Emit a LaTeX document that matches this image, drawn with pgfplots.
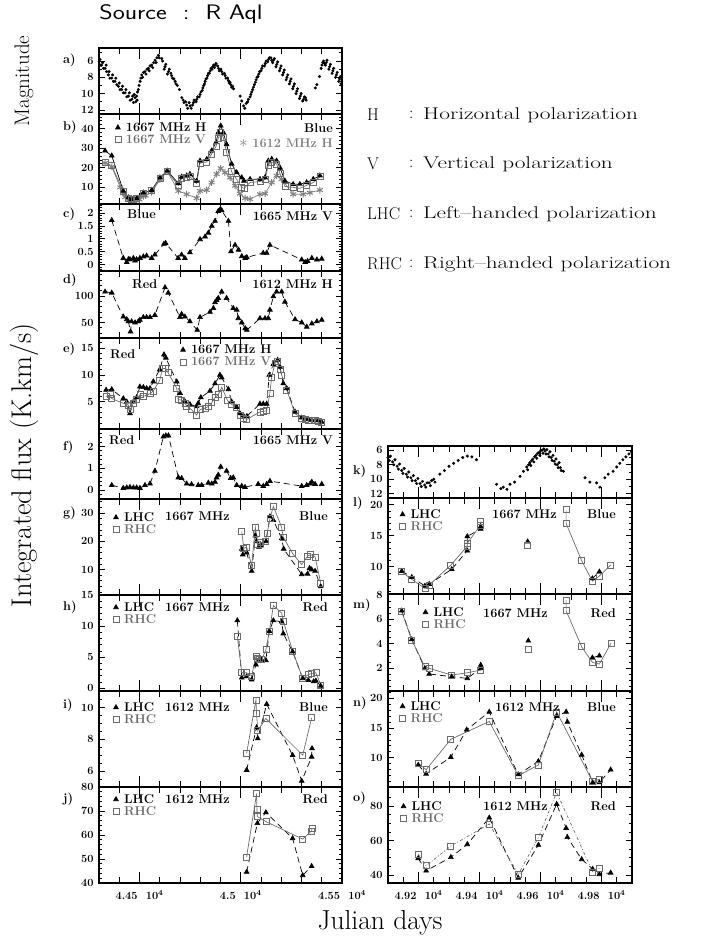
\documentclass[border=0pt]{standalone}
\usepackage{fontspec}
\usepackage{graphicx}
\usepackage{pgfplots}
\pgfplotsset{compat=1.18}
\newcommand\tlf{\bfseries\fontsize{11}{12}\selectfont}
\newcommand\anf{\bfseries\fontsize{12.7}{13}\selectfont}
\newcommand\rtf{\fontsize{17}{20}\selectfont}
\newcommand\rt[1]{\scalebox{1.37}[1]{#1}}
\definecolor{sqgray}{gray}{0.42}
\definecolor{stgray}{gray}{0.5}
\pgfplotsset{
 panel/.style={scale only axis, anchor=north west, axis line style={line width=1.1pt},
   tick style={line width=0.8pt,black}, major tick length=6pt, minor tick length=3pt,
   tick align=inside, xticklabels={}, tick label style={font=\tlf},
   scaled x ticks=false, scaled y ticks=false,
   /pgf/number format/assume math mode=true, yticklabel style={xshift=-2pt},
   xticklabel style={yshift=-4pt}, extra x tick style={major tick length=11pt},
   unbounded coords=jump},
 L/.style={panel, width=243pt, xmin=44300, xmax=45500, xtick={44300,44400,...,45500},
   extra x ticks={44500,45000,45500}, extra x tick labels={}},
 R/.style={panel, width=244pt, xmin=49100, xmax=49900, xtick={49100,49150,...,49900},
   extra x ticks={49200,49400,49600,49800}, extra x tick labels={}},
 tri/.style={black, line width=0.7pt, mark=triangle*, mark size=2.7pt, mark options={solid, fill=black}},
 sq/.style={sqgray, line width=0.7pt, mark=square, mark size=3pt, mark options={solid}},
 dsh/.style={dash pattern=on 6pt off 4pt},
 leg/.style={legend style={at={(#1)}, anchor=north west, draw=none, fill=none, font=\anf,
   inner sep=0pt, row sep=-2pt, cells={anchor=west}},
   legend image code/.code={\path (0cm,0cm) (0.35cm,0cm); \draw[##1, only marks] plot coordinates {(0.15cm,0cm)};}},
 dots/.style={only marks, mark=*, mark size=1.3pt, black},
}
\begin{document}
\begin{tikzpicture}[x=1pt,y=1pt]
\useasboundingbox (0pt,0pt) rectangle (701pt,-942pt);
% ---------------- a
\begin{axis}[L, at={(99pt,-48pt)}, height=66pt, ymin=4.4, ymax=12.5, y dir=reverse,
  ytick={6,8,10,12}, minor ytick={5,7,9,11}]
\addplot[dots] coordinates {
(44300,6.1)(44305,5.8)(44308,6.5)(44313,6.5)(44318,6.2)(44322,6.9)(44330,6.9)(44335,6.5)(44338,7.3)
(44346,7.7)(44350,7.3)(44354,8.1)(44363,8.1)(44367,7.7)(44371,8.5)(44379,8.5)(44383,8.1)(44388,8.9)
(44396,9.1)(44400,8.7)(44404,9.5)(44412,9.5)(44416,9.1)(44420,9.9)(44429,9.9)(44433,9.5)(44437,10.4)
(44445,10.3)(44450,9.9)(44454,10.8)(44462,10.7)(44466,10.3)(44470,11.1)(44478,10.5)(44482,11.0)(44474,10.1)
(44486,10.3)(44490,9.8)(44488,10.8)(44494,9.5)(44498,9.0)(44503,8.5)(44507,8.1)
(44511,7.7)(44515,8.0)(44520,7.4)(44527,7.3)(44532,7.6)(44537,7.0)(44544,6.9)(44548,7.2)(44552,6.6)
(44560,6.5)(44565,6.8)(44570,6.2)(44577,5.9)(44582,6.2)(44586,5.6)(44593,5.3)(44597,5.6)
(44610,5.7)(44614,6.0)(44626,6.7)(44630,6.4)(44622,7.0)(44643,7.3)(44647,7.0)(44638,7.6)
(44659,7.8)(44663,8.1)(44655,7.5)(44676,8.5)(44680,8.8)(44670,8.2)(44687,9.0)(44697,9.5)(44709,10.5)
(44720,11.1)(44716,10.8)(44733,11.4)(44728,11.0)(44738,11.8)(44750,11.5)(44745,11.1)(44755,11.8)
(44766,11.1)(44762,11.4)(44770,10.8)(44783,10.7)(44779,11.0)(44787,10.4)(44799,10.1)(44795,10.4)(44803,9.8)
(44813,9.3)(44810,9.6)(44817,9.0)(44824,8.5)(44821,8.8)(44828,8.2)(44836,7.8)(44833,8.1)(44840,7.5)
(44849,7.2)(44845,7.5)(44853,6.9)(44862,6.7)(44858,7.0)(44866,6.5)(44874,6.5)(44870,6.8)(44878,6.3)
(44890,6.9)(44886,6.6)(44894,7.2)(44906,7.3)(44902,7.0)(44910,7.6)(44923,7.8)(44919,7.5)(44927,8.1)
(44939,8.4)(44935,8.1)(44943,8.7)(44951,8.9)(44947,8.6)(44955,9.2)(44964,9.4)(44960,9.1)
(44997,10.3)(45005,10.9)(45014,11.5)(45020,11.8)(45027,11.2)(45038,10.7)(45034,11.0)
(45050,10.1)(45046,10.4)(45054,9.8)(45063,9.2)(45059,9.5)(45067,8.9)(45076,8.3)(45072,8.6)(45080,8.0)
(45089,7.6)(45085,7.9)(45093,7.3)(45104,6.9)(45100,7.2)(45108,6.6)(45121,6.3)(45117,6.6)(45125,6.0)
(45137,5.8)(45133,6.1)(45141,5.6)(45149,5.6)(45153,5.9)(45162,5.9)(45158,6.2)(45166,5.7)
(45178,6.4)(45174,6.7)(45182,6.1)(45195,6.9)(45191,7.2)(45199,6.6)(45211,7.4)(45207,7.7)(45215,7.1)
(45228,8.0)(45224,8.3)(45232,7.7)(45244,8.5)(45240,8.8)(45248,8.2)(45261,9.1)(45257,9.4)(45265,8.8)
(45277,9.7)(45273,10.0)(45281,9.4)(45294,10.3)(45290,10.6)(45298,10.0)(45310,10.7)(45306,10.9)(45314,10.4)
(45323,10.8)(45320,10.5)
(45368,9.3)(45376,8.9)(45389,7.9)(45401,6.5)(45397,6.9)(45405,6.2)(45409,6.0)(45413,6.3)
(45422,6.2)(45418,6.5)(45426,5.9)(45439,6.7)(45435,7.0)(45443,6.4)(45455,7.2)(45451,7.5)(45459,6.9)
(45472,7.7)(45468,8.0)(45476,7.4)(45488,8.2)(45484,8.5)(45492,7.9)(45498,8.5)(45495,8.8)};
\end{axis}
% ---------------- b
\begin{axis}[L, at={(99pt,-114pt)}, height=90pt, ymin=1.5, ymax=47.5,
  ytick={10,20,30,40}, minor ytick={2,4,...,46}, leg={0.058,0.93}]
\addplot[forget plot, stgray, line width=0.7pt, mark=asterisk, mark size=3.4pt, mark options={line width=1pt}] coordinates {
(44330,22.5)(44363,20.5)(44405,10)(44420,7)(44430,5)(44445,3.5)(44461,2.8)(44470,3)(44486,3.2)(44500,3.8)
(44519,5.5)(44530,5.8)(44560,7.5)(44601,14)(44637,18)(44692,8.2)(44733,6.5)(44782,4.5)(44799,8.2)(44832,8.6)
(44856,12.5)(44881,16.8)(44901,19.8)(44922,17.6)(44947,15)(44972,10.8)(44996,6.8)(45021,4.5)(45046,4)
(45095,6.5)(45120,6.8)(45153,12.5)(45177,16)(45201,14.2)(45259,6.5)(45308,6.5)(45341,7.3)(45391,8.6)};
\addplot[tri] coordinates {
(44330,28.7)(44363,26.2)(44420,8.2)(44445,4.8)(44461,4.0)(44486,4.5)(44519,7.3)(44560,8.6)(44601,15)
(44637,18.5)(44692,12)(44708,15.4)(44733,16)(44749,16.8)(44782,13.3)(44799,23.6)(44832,24.4)(44856,28.7)
(44878,33)(44889,38)(44901,41.5)(44914,38)(44930,32)(44955,22)(44980,17.6)(45005,15)(45016,13.3)
(45046,14.2)(45095,14.2)(45120,15)(45136,23.6)(45153,24.5)(45177,23.6)(45194,20)(45218,13.3)
(45259,11.6)(45292,11.6)(45325,12.5)(45358,14.2)(45391,16)};
\addlegendentry{1667 MHz H}
\addplot[sq] coordinates {
(44330,22.7)(44363,21)(44420,8)(44445,4.5)(44461,3.8)(44486,4.3)(44519,7)(44560,8.3)(44601,14.5)
(44637,18)(44692,11)(44708,14.5)(44733,15)(44749,15.5)(44782,12)(44799,22.5)(44832,23)(44856,27)
(44878,31)(44889,35)(44901,38)(44914,35.5)(44930,28)(44955,18)(44980,14)(45005,10)(45016,9.5)
(45046,12.5)(45095,13)(45120,14)(45136,21.5)(45153,23)(45177,22)(45194,17)(45218,10.5)
(45259,10)(45292,9.5)(45325,11)(45358,12.5)(45391,15.5)};
\addlegendentry{\textcolor{sqgray}{1667 MHz V}}
\end{axis}
% ---------------- c
\begin{axis}[L, at={(99pt,-204pt)}, height=67pt, ymin=-0.25, ymax=2.35,
  ytick={0,0.5,1,1.5,2}, minor ytick={-0.2,-0.1,...,2.3}]
\addplot[tri, dsh] coordinates {
(44363,1.72)(44420,0.25)(44437,0.09)(44445,0.2)(44453,0.2)(44470,0.25)(44478,0.15)(44486,0.2)(44502,0.25)
(44519,0.31)(44535,0.34)(44560,0.25)(44576,0.38)(44621,0.8)(44629,0.83)(44691,0.25)(44708,0.38)(44724,0.25)
(44749,0.47)(44799,0.98)(44824,1.08)(44840,1.23)(44857,1.5)(44873,1.69)(44889,2.07)(44898,2.13)(44906,2.1)
(44939,1.69)(44952,0.51)(44972,0.76)(44989,0.57)(45005,0.32)(45022,0.25)(45030,0.28)(45111,0.45)(45128,0.45)
(45144,0.76)(45301,0.19)(45318,0.09)(45330,0.13)(45351,0.25)(45376,0.19)(45400,0.22)};
\end{axis}
% ---------------- d
\begin{axis}[L, at={(99pt,-271pt)}, height=67pt, ymin=21, ymax=147,
  ytick={50,100}, minor ytick={30,40,...,140}]
\addplot[tri, dsh] coordinates {
(44330,108)(44363,106)(44420,61)(44437,56)(44445,52)(44456,33)(44461,52)(44478,50)(44494,52)(44502,55)
(44519,60)(44535,60)(44552,60)(44576,64)(44626,116)(44642,106)(44700,60)(44708,66)(44724,61)(44749,52)
(44785,36)(44799,60)(44848,70)(44865,77)(44873,88)(44881,92)(44889,96)(44906,108)(44930,96)(44963,77)
(44980,74)(44988,58)(45005,50)(45022,39)(45030,36)(45095,58)(45120,58)(45136,58)(45144,74)(45161,99)
(45177,108)(45202,108)(45218,89)(45268,56)(45301,50)(45326,42)(45351,48)(45376,52)(45400,55)};
\end{axis}
% ---------------- e
\begin{axis}[L, at={(99pt,-338pt)}, height=91pt, ymin=-0.1, ymax=16.9,
  ytick={5,10,15}, minor ytick={1,2,...,16}, leg={0.326,0.95}]
\addplot[tri, dsh] coordinates {
(44335,7.2)(44363,7.3)(44420,5.6)(44437,5.0)(44453,2.8)(44470,5.0)(44486,5.8)(44502,7.8)(44519,7.7)
(44535,7.5)(44552,7.5)(44568,8.75)(44600,11)(44621,13.8)(44630,13.2)(44684,8.75)(44700,6.6)(44725,5.0)
(44749,4.5)(44782,4.1)(44790,4.7)(44803,5.8)(44848,7.0)(44873,8.4)(44897,10)(44906,9.5)(44939,7.3)
(44955,5)(44980,4)(44996,2.8)(45013,2.4)(45030,2.3)(45095,4.6)(45111,4.6)(45128,4.6)(45141,10)
(45161,12)(45182,12.8)(45194,11.5)(45210,8.4)(45227,7.5)(45268,3.1)(45301,2.0)(45318,1.8)(45334,1.7)
(45351,1.6)(45367,1.5)(45384,1.5)(45400,1.2)};
\addlegendentry{1667 MHz H}
\addplot[sq] coordinates {
(44335,6.0)(44354,6.3)(44363,5.6)(44420,4.7)(44445,4.4)(44453,3.5)(44470,4.7)(44486,5.5)(44502,6.3)
(44519,6.0)(44552,6.5)(44568,7.0)(44600,9)(44614,11.2)(44630,11.2)(44640,10.5)(44684,7.5)(44691,5.4)
(44708,5.3)(44725,4.7)(44733,4.2)(44757,3.5)(44782,2.5)(44799,3.5)(44824,3.8)(44840,4.1)(44857,4.8)
(44873,5.8)(44889,6.3)(44906,7.7)(44935,5.2)(44955,4.5)(44980,3.9)(44996,2.5)(45013,1.9)(45030,1.7)
(45095,3.1)(45111,3.2)(45128,3.3)(45144,6.6)(45152,9.5)(45169,12.2)(45180,12.5)(45194,11)(45202,10)
(45227,7.2)(45268,2.8)(45301,1.9)(45318,1.7)(45334,1.6)(45351,1.6)(45367,1.5)(45384,1.4)(45400,1.1)};
\addlegendentry{\textcolor{sqgray}{1667 MHz V}}
\end{axis}
% ---------------- f
\begin{axis}[L, at={(99pt,-429pt)}, height=70pt, ymin=-0.4, ymax=2.8,
  ytick={0,1,2}, minor ytick={-0.2,0,...,2.6}]
\addplot[tri, dsh] coordinates {
(44363,0.23)(44420,0.1)(44437,0.12)(44453,0.14)(44470,0.12)(44486,0.12)(44502,0.1)(44527,0.23)(44552,0.3)
(44576,0.88)(44618,2.45)(44630,2.5)(44643,2.5)(44692,0.58)(44708,0.55)(44733,0.3)(44757,0.27)(44790,0.23)
(44807,0.23)(44840,0.34)(44857,0.3)(44873,0.38)(44881,0.58)(44889,0.7)(44901,1.07)(44930,0.88)(44950,0.55)
(44963,0.58)(44980,0.23)(45005,0.19)(45021,0.14)(45086,0.28)(45111,0.19)(45128,0.28)(45144,0.42)
(45301,0.19)(45326,0.23)(45343,0.3)(45351,0.38)(45367,0.28)(45400,0.28)};
\end{axis}
% ---------------- g
\begin{axis}[L, at={(99pt,-499pt)}, height=96pt, ymin=1, ymax=35,
  ytick={10,20,30}, minor ytick={2,4,...,34}, leg={0.05,0.885}]
\addplot[tri, dsh] coordinates {
(45005,17.3)(45010,15.3)(45029,16)(45054,9.5)(45072,22)(45078,20)(45090,18)(45100,18.5)(45125,20)
(45144,28.8)(45161,27.5)(45202,21)(45212,17.3)(45301,8.3)(45330,8.5)(45340,10.5)(45350,10)(45367,9.5)(45395,4)};
\addlegendentry{LHC}
\addplot[sq] coordinates {
(45005,23.5)(45015,17.5)(45029,18)(45054,11.5)(45072,25)(45076,23)(45084,19)(45095,19.5)(45120,20)
(45130,22.7)(45144,28)(45161,32.4)(45202,25)(45210,21.5)(45256,15.7)(45301,11.8)(45330,14.8)(45345,15.3)
(45367,14.5)(45395,5.2)};
\addlegendentry{\textcolor{sqgray}{RHC}}
\end{axis}
% ---------------- h
\begin{axis}[L, at={(99pt,-595pt)}, height=96pt, ymin=-0.43, ymax=15,
  ytick={0,5,10,15}, minor ytick={1,2,...,14}, leg={0.05,0.948}]
\addplot[tri, dsh] coordinates {
(44983,10.9)(45005,1.7)(45029,1.9)(45054,1.4)(45075,3.8)(45090,4.6)(45103,4.6)(45124,4.5)(45141,9.2)
(45161,10.9)(45202,10.7)(45210,8.8)(45256,5.9)(45306,1.6)(45334,1.3)(45360,1.1)(45371,1.2)(45395,0.4)};
\addlegendentry{LHC}
\addplot[sq] coordinates {
(44983,8.4)(45005,2.5)(45029,2.5)(45054,2.0)(45075,5.2)(45080,4.8)(45090,4.6)(45103,4.6)(45124,6.2)
(45141,9.1)(45161,13.3)(45202,12.1)(45210,10.8)(45256,6.0)(45306,1.6)(45334,2.2)(45350,2.4)(45371,2.5)(45395,0.55)};
\addlegendentry{\textcolor{sqgray}{RHC}}
\end{axis}
% ---------------- i
\begin{axis}[L, at={(99pt,-691pt)}, height=96pt, ymin=4.99, ymax=11.06,
  ytick={6,8,10}, minor ytick={5.5,6,...,10.5}, leg={0.05,0.906}]
\addplot[tri, dsh] coordinates {
(45029,6.06)(45078,8.75)(45084,8.06)(45128,10.23)(45256,7.0)(45301,5.37)(45350,6.9)(45352,7.43)};
\addlegendentry{LHC}
\addplot[sq] coordinates {
(45029,7.12)(45075,10.5)(45078,9.65)(45084,8.55)(45124,9.33)(45306,7.0)(45350,9.37)};
\addlegendentry{\textcolor{sqgray}{RHC}}
\end{axis}
% ---------------- j
\begin{axis}[L, at={(99pt,-787pt)}, height=96pt, ymin=40, ymax=80,
  ytick={40,50,...,80}, minor ytick={42,44,...,78}, leg={0.05,0.948},
  extra x tick labels={4.45\ \ 10\textsuperscript{4},4.5\ \ 10\textsuperscript{4},4.55\ \ 10\textsuperscript{4}}]
\addplot[tri, dsh] coordinates {
(45029,44.6)(45082,64.9)(45124,69.4)(45256,58.6)(45306,43.2)(45350,47)};
\addlegendentry{LHC}
\addplot[sq] coordinates {
(45029,50.9)(45078,77.2)(45080,70.5)(45082,67.7)(45124,65.6)(45306,58.3)(45350,61.7)(45352,62.9)};
\addlegendentry{\textcolor{sqgray}{RHC}}
\end{axis}
% ---------------- k
\begin{axis}[R, at={(388pt,-446pt)}, height=52pt, ymin=5.4, ymax=12.6, y dir=reverse,
  ytick={6,8,10,12}, minor ytick={7,9,11}]
\addplot[dots] coordinates {
(49100,7.0)(49104,7.4)(49108,6.8)(49115,7.6)(49119,8.0)(49123,7.3)(49130,8.2)(49134,8.6)(49138,7.9)
(49145,8.8)(49149,9.2)(49153,8.5)(49160,9.3)(49164,9.7)(49168,9.0)(49175,9.8)(49179,10.2)(49183,9.5)
(49190,10.2)(49194,10.6)(49198,9.9)(49205,10.6)(49209,11.0)(49213,10.3)(49220,10.8)(49224,11.1)(49228,10.5)
(49235,10.5)(49239,10.9)(49243,10.2)(49250,10.0)(49254,10.4)
(49270,9.3)(49285,8.8)(49300,8.2)(49315,7.8)(49330,7.4)(49345,7.0)(49360,6.8)(49375,6.9)(49390,7.3)
(49456,10.7)(49470,11.3)(49478,11.1)(49490,11.4)(49500,10.7)(49515,10.4)(49533,9.6)(49544,8.9)
(49555,8.3)(49558,8.7)(49561,8.0)(49565,7.7)(49568,8.1)(49571,7.4)(49575,7.2)(49578,7.6)(49581,6.9)
(49585,6.7)(49588,7.1)(49591,6.4)(49595,6.3)(49598,6.7)(49601,6.0)(49605,6.0)(49608,6.4)(49611,5.8)
(49615,6.1)(49618,6.5)(49621,5.9)(49625,6.5)(49628,6.9)(49631,6.2)(49635,7.0)(49638,7.4)(49641,6.7)
(49645,7.5)(49648,7.9)(49651,7.2)(49655,8.0)(49658,8.4)(49661,7.7)(49665,8.4)(49668,8.8)(49675,8.9)
(49746,9.8)(49762,10.4)(49784,10.5)(49795,11.1)(49811,9.8)(49822,9.3)(49838,8.9)(49850,8.3)(49860,7.8)
(49870,7.3)(49880,6.9)(49890,6.5)(49898,6.2)};
\end{axis}
% ---------------- l
\begin{axis}[R, at={(388pt,-498pt)}, height=96pt, ymin=5.6, ymax=21.1,
  ytick={10,15,20}, minor ytick={6,7,...,21}, leg={0.04,0.906}]
\addplot[tri, dsh] coordinates {
(49145,9.3)(49178,8.3)(49221,6.9)(49235,7.2)(49309,9.6)(49360,12.6)(49360,14.9)(49404,16.1)(49404,16.5)
(49480,nan)(49558,14.05)(49620,nan)(49770,8.1)(49793,9.2)};
\addlegendentry{LHC}
\addplot[sq] coordinates {
(49145,9.19)(49178,7.96)(49221,6.5)(49235,7.03)(49306,10.28)(49360,13.3)(49360,13.8)(49404,16.75)(49404,17.3)
(49480,nan)(49558,13.5)(49620,nan)(49684,19.2)(49684,17.0)(49735,10.97)(49770,7.68)(49793,8.5)(49830,10.28)};
\addlegendentry{\textcolor{sqgray}{RHC}}
\end{axis}
% ---------------- m
\begin{axis}[R, at={(388pt,-594pt)}, height=97pt, ymin=0.15, ymax=8.07,
  ytick={2,4,6,8}, minor ytick={0.5,1,...,7.5}, leg={0.134,0.887}]
\addplot[tri, dsh] coordinates {
(49145,6.7)(49178,4.36)(49221,1.99)(49235,1.54)(49309,1.32)(49360,1.18)(49404,2.0)(49404,2.27)
(49480,nan)(49560,4.25)(49620,nan)(49770,2.87)(49793,3.03)};
\addlegendentry{LHC}
\addplot[sq] coordinates {
(49145,6.62)(49178,4.31)(49221,2.13)(49235,2.0)(49309,1.45)(49360,1.64)(49404,1.86)
(49480,nan)(49560,3.57)(49620,nan)(49684,7.57)(49684,6.7)(49735,3.76)(49770,2.49)(49793,2.35)(49831,4.04)};
\addlegendentry{\textcolor{sqgray}{RHC}}
\end{axis}
% ---------------- n
\begin{axis}[R, at={(388pt,-691pt)}, height=96pt, ymin=5.1, ymax=21.2,
  ytick={10,15,20}, minor ytick={6,7,...,21}, leg={0.04,0.917}]
\addplot[tri, dsh] coordinates {
(49199,8.8)(49225,7.3)(49306,10.1)(49358,14.7)(49432,17.7)(49527,7.2)(49593,9.4)(49653,17.0)(49684,17.7)
(49688,16.0)(49735,10.5)(49771,5.85)(49793,5.85)(49830,8.0)};
\addlegendentry{LHC}
\addplot[sq] coordinates {
(49199,9.1)(49225,8.0)(49306,13.1)(49432,16.1)(49527,7.0)(49593,8.8)(49653,17.7)(49771,6.0)(49793,6.4)};
\addlegendentry{\textcolor{sqgray}{RHC}}
\end{axis}
% ---------------- o
\begin{axis}[R, at={(388pt,-787pt)}, height=96pt, ymin=35.4, ymax=91,
  ytick={40,60,80}, minor ytick={45,50,...,85}, leg={0.044,0.875},
  extra x tick labels={4.92\ \ 10\textsuperscript{4},4.94\ \ 10\textsuperscript{4},4.96\ \ 10\textsuperscript{4},4.98\ \ 10\textsuperscript{4}}]
\addplot[tri, dsh] coordinates {
(49199,49.7)(49225,42.5)(49306,50.3)(49360,57.8)(49432,73.2)(49527,38.4)(49593,57.4)(49653,81.1)(49684,67.2)
(49688,61.9)(49735,49.1)(49771,43.5)(49793,40.4)(49830,41.3)};
\addlegendentry{LHC}
\addplot[sq, dash pattern=on 3pt off 2pt on 1pt off 2pt] coordinates {
(49199,52.0)(49225,45.4)(49306,56.8)(49432,69.6)(49527,40.4)(49593,61.8)(49653,87.9)(49771,41.8)(49793,43.9)};
\addlegendentry{\textcolor{sqgray}{RHC}}
\end{axis}
% ---------------- texts
\node[font=\sffamily\fontsize{21}{22}\selectfont] at (181pt,-14pt) {\scalebox{1.22}[1]{Source\ \ :\ \ R\ Aql}};
\node[rotate=90, font=\fontsize{21}{24}\selectfont] at (24pt,-81pt) {Magnitude};
\node[rotate=90, font=\fontsize{28.5}{30}\selectfont] at (24pt,-465pt) {Integrated flux (K.km/s)};
\node[font=\fontsize{27.5}{30}\selectfont] at (380pt,-923pt) {Julian days};
\begin{scope}[every node/.style={font=\rtf, anchor=west, inner sep=0pt}]
\node at (367pt,-115pt) {H}; \node at (409pt,-115pt) {:}; \node at (423pt,-115pt) {\rt{Horizontal polarization}};
\node at (367pt,-164pt) {V}; \node at (409pt,-164pt) {:}; \node at (423pt,-164pt) {\rt{Vertical polarization}};
\node at (367pt,-214pt) {LHC}; \node at (409pt,-214pt) {:}; \node at (423pt,-214pt) {\rt{Left--handed polarization}};
\node at (367pt,-264pt) {RHC}; \node at (409pt,-264pt) {:}; \node at (423pt,-264pt) {\rt{Right--handed polarization}};
\end{scope}
\begin{scope}[every node/.style={font=\anf, inner sep=0pt}]
\node[anchor=west] at (63pt,-60pt) {a)}; \node[anchor=west] at (63pt,-127pt) {b)};
\node[anchor=west] at (63pt,-214pt) {c)}; \node[anchor=west] at (63pt,-280pt) {d)};
\node[anchor=west] at (63pt,-349pt) {e)}; \node[anchor=west] at (63pt,-447pt) {f)};
\node[anchor=west] at (63pt,-513pt) {g)}; \node[anchor=west] at (63pt,-607pt) {h)};
\node[anchor=west] at (63pt,-705pt) {i)}; \node[anchor=west] at (63pt,-799pt) {j)};
\node[anchor=west] at (353pt,-471pt) {k)}; \node[anchor=west] at (353pt,-503pt) {l)};
\node[anchor=west] at (353pt,-605pt) {m)}; \node[anchor=west] at (353pt,-703pt) {n)};
\node[anchor=west] at (353pt,-798pt) {o)};
\node[anchor=east] at (333pt,-128pt) {Blue};
\node[anchor=east] at (333pt,-143pt) {\textcolor{stgray}{{\fontsize{16}{16}\selectfont$\ast$}\ 1612 MHz H}};
\node[anchor=west] at (127pt,-214pt) {Blue}; \node[anchor=east] at (333pt,-216pt) {1665 MHz V};
\node[anchor=west] at (132pt,-284pt) {Red}; \node[anchor=east] at (333pt,-284pt) {1612 MHz H};
\node[anchor=west] at (110pt,-354pt) {Red};
\node[anchor=west] at (109pt,-440pt) {Red}; \node[anchor=east] at (333pt,-440pt) {1665 MHz V};
\node[anchor=west] at (165pt,-516pt) {1667 MHz}; \node[anchor=east] at (328pt,-516pt) {Blue};
\node[anchor=west] at (165pt,-607pt) {1667 MHz}; \node[anchor=east] at (328pt,-607pt) {Red};
\node[anchor=west] at (165pt,-707pt) {1612 MHz}; \node[anchor=east] at (328pt,-707pt) {Blue};
\node[anchor=west] at (165pt,-799pt) {1612 MHz}; \node[anchor=east] at (328pt,-799pt) {Red};
\node[anchor=west] at (492pt,-514pt) {1667 MHz}; \node[anchor=east] at (616pt,-514pt) {Blue};
\node[anchor=west] at (483pt,-613pt) {1667 MHz}; \node[anchor=east] at (616pt,-613pt) {Red};
\node[anchor=west] at (495pt,-707pt) {1612 MHz}; \node[anchor=east] at (616pt,-707pt) {Blue};
\node[anchor=west] at (483pt,-806pt) {1612 MHz}; \node[anchor=east] at (616pt,-806pt) {Red};
\end{scope}
\end{tikzpicture}
\end{document}
